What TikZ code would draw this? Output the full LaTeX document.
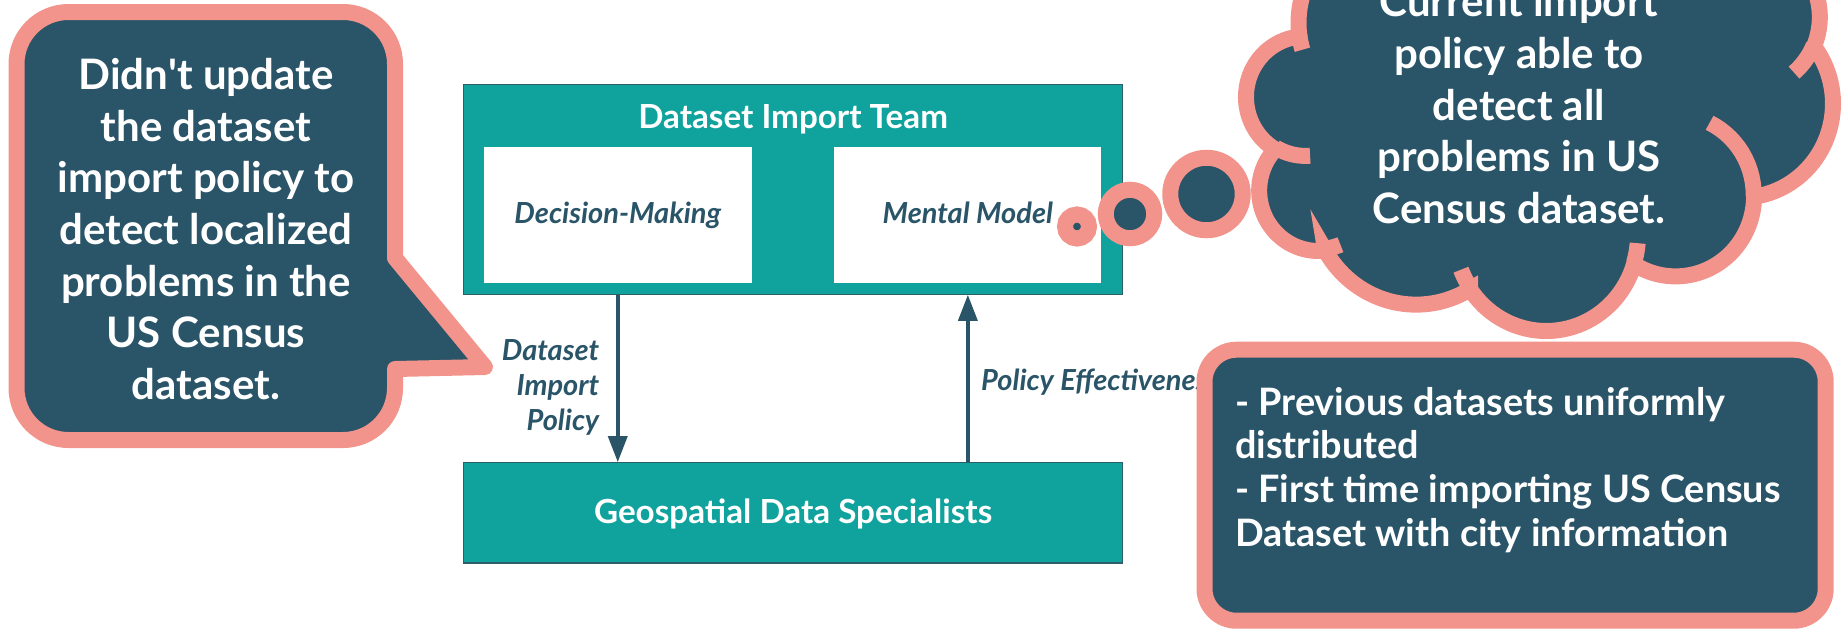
\documentclass[tikz,border=0pt]{standalone}
\usepackage{fontspec}
\setmainfont{Lato}
\usetikzlibrary{arrows.meta}
\definecolor{teal1}{HTML}{10A39E}
\definecolor{navy}{HTML}{2A5568}
\definecolor{pink1}{HTML}{F2938C}
\definecolor{edge1}{HTML}{2D5F6B}
\def\CX{1246.4}\def\CY{-111.4}\def\CW{5.863}\def\CH{4.408}
\tikzset{
  teambox/.style={draw=edge1, line width=1.2pt, fill=teal1, inner sep=0pt},
  whitebox/.style={fill=white, inner sep=0pt},
  titletext/.style={text=white, font=\bfseries\fontsize{33.2}{38}\selectfont, inner sep=0pt},
  boxtext/.style={text=navy, font=\bfseries\itshape\fontsize{29}{35}\selectfont, inner sep=0pt},
  flow/.style={draw=navy, line width=3.5pt, -{Triangle[length=26pt,width=19pt]}},
  callout/.style={fill=navy, draw=pink1, line width=16pt, line join=round},
  ring/.style={fill=navy, draw=pink1, line width=16pt},
  crease/.style={draw=pink1, line width=16pt},
  bigtext/.style={text=white, font=\bfseries\fontsize{42}{51.7}\selectfont, inner sep=0pt},
  notetext/.style={text=white, font=\bfseries\fontsize{37.8}{43.9}\selectfont, inner sep=0pt},
}
\begin{document}
\begin{tikzpicture}[x=1pt,y=-1pt]
\useasboundingbox (0,0) rectangle (1845,633);
% ---------- left callout ----------
\path[callout] (395,258) -- (395,64) .. controls (395,35.3) and (371.7,12) .. (343,12)
  -- (68.5,12) .. controls (39.8,12) and (16.5,35.3) .. (16.5,64)
  -- (16.5,388) .. controls (16.5,416.7) and (39.8,440) .. (68.5,440)
  -- (343,440) .. controls (371.7,440) and (395,416.7) .. (395,388)
  -- (395,369) -- (485,367) -- cycle;
\node[bigtext, align=center] (leftnote) at (206,234.1)
  {\strut Didn\textquotesingle t update\\\strut the dataset\\\strut import policy to\\\strut detect localized\\\strut problems in the\\\strut US Census\\\strut dataset.};
% ---------- main diagram ----------
\node[teambox, minimum width=659pt, minimum height=209.5pt] (team) at (793.1,189.45) {};
\node[titletext, anchor=base] (teamtitle) at (793.1,128.3) {Dataset Import Team};
\node[whitebox, boxtext, minimum width=268.3pt, minimum height=136.6pt, text height=16pt, text depth=0pt] (dm) at (617.75,215) {Decision-Making};
\node[whitebox, boxtext, minimum width=267.1pt, minimum height=136.6pt, text height=16pt, text depth=0pt] (mm) at (967.85,215) {Mental Model};
\node[teambox, titletext, minimum width=659pt, minimum height=100.3pt, text height=20.9pt, text depth=0pt] (geo) at (793.1,512.85) {Geospatial Data Specialists};
\draw[flow] (team.south -| dm.south) -- (geo.north -| dm.south);
\draw[flow] (geo.north -| mm.south) -- (team.south -| mm.south);
\node[boxtext, align=right, anchor=east] (lblpolicy) at (599.4,388) {\strut Dataset\\\strut Import\\\strut Policy};
\node[boxtext, anchor=base west] (lbleff) at (981,390) {Policy Effectiveness};
% ---------- thought cloud ----------
\filldraw[fill=navy, draw=pink1, line width=16pt, samples=40]
  plot[domain=172.253:300.37] ({\CX+\CW*(24.517+15.632*cos(\x))},{\CY+\CH*(30.396+21.273*sin(\x))})
  -- plot[domain=-152.04:-45.45] ({\CX+\CW*(43.322+12.345*cos(\x))},{\CY+\CH*(19.927+16.822*sin(\x))})
  -- plot[domain=-153.49:-37.33] ({\CX+\CW*(61.024+10.104*cos(\x))},{\CY+\CH*(14.082+13.762*sin(\x))})
  -- plot[domain=-139.71:-10.21] ({\CX+\CW*(77.636+11.243*cos(\x))},{\CY+\CH*(15.606+15.266*sin(\x))})
  -- plot[domain=-74.77:23.21] ({\CX+\CW*(85.457+12.345*cos(\x))},{\CY+\CH*(29.145+16.836*sin(\x))})
  -- plot[domain=-37.53:81.86] ({\CX+\CW*(84.367+15.683*cos(\x))},{\CY+\CH*(48.782+21.343*sin(\x))})
  -- plot[domain=0.4596:121.97] ({\CX+\CW*(73.197+13.391*cos(\x))},{\CY+\CH*(69.764+18.211*sin(\x))})
  -- plot[domain=16.84:146.23] ({\CX+\CW*(51.147+15.630*cos(\x))},{\CY+\CH*(79.033+21.331*sin(\x))})
  -- plot[domain=58.98:150.17] ({\CX+\CW*(28.946+17.870*cos(\x))},{\CY+\CH*(69.975+24.405*sin(\x))})
  -- plot[domain=83.31:223.10] ({\CX+\CW*(12.269+10.093*cos(\x))},{\CY+\CH*(68.513+13.699*sin(\x))})
  -- plot[domain=120.35:264.11] ({\CX+\CW*(9.984+10.058*cos(\x))},{\CY+\CH*(47.275+13.762*sin(\x))})
  -- cycle;
\foreach \a/\b/\c/\d/\s/\e in {
  10.082/46.875/10.058/13.762/85.545/120.35,
  12.294/68.063/10.093/13.699/68.23/83.31,
  51.136/78.628/15.630/21.331/146.23/158.47,
  51.153/78.681/15.630/21.331/4.737/16.84,
  73.133/69.503/13.391/18.211/-64.01/0.4596,
  85.409/28.906/12.345/16.836/23.21/49.65,
  77.648/15.266/11.243/15.266/-10.21/0.821,
  77.604/15.289/11.243/15.266/-156.28/-139.71,
  61.126/13.851/10.104/13.762/-167.73/-153.49,
  24.506/30.374/15.632/21.273/-59.63/-45.74,
  24.517/30.397/15.632/21.273/163.19/172.253}
  \draw[crease, samples=15] plot[domain=\s:\e] ({\CX+\CW*(\a+\c*cos(\x))},{\CY+\CH*(\b+\d*sin(\x))});
\node[bigtext, align=center] (cloudtext) at (1519,109.7)
  {\strut Current import\\\strut policy able to\\\strut detect all\\\strut problems in US\\\strut Census dataset.};
% thought bubbles
\draw[ring] (1077,226.5) circle[radius=12pt];
\draw[ring] (1130,214) circle[radius=24.25pt];
\draw[ring] (1206.5,194) circle[radius=36.25pt];
% ---------- right note ----------
\draw[fill=navy, draw=pink1, line width=16pt, rounded corners=32pt] (1204.5,349.7) rectangle (1825.7,620.7);
\node[notetext, align=left, anchor=west] (note) at (1235,472.1)
  {\strut - Previous datasets uniformly\\\strut distributed\\\strut - First time importing US Census\\\strut Dataset with city information};
\end{tikzpicture}
\end{document}
